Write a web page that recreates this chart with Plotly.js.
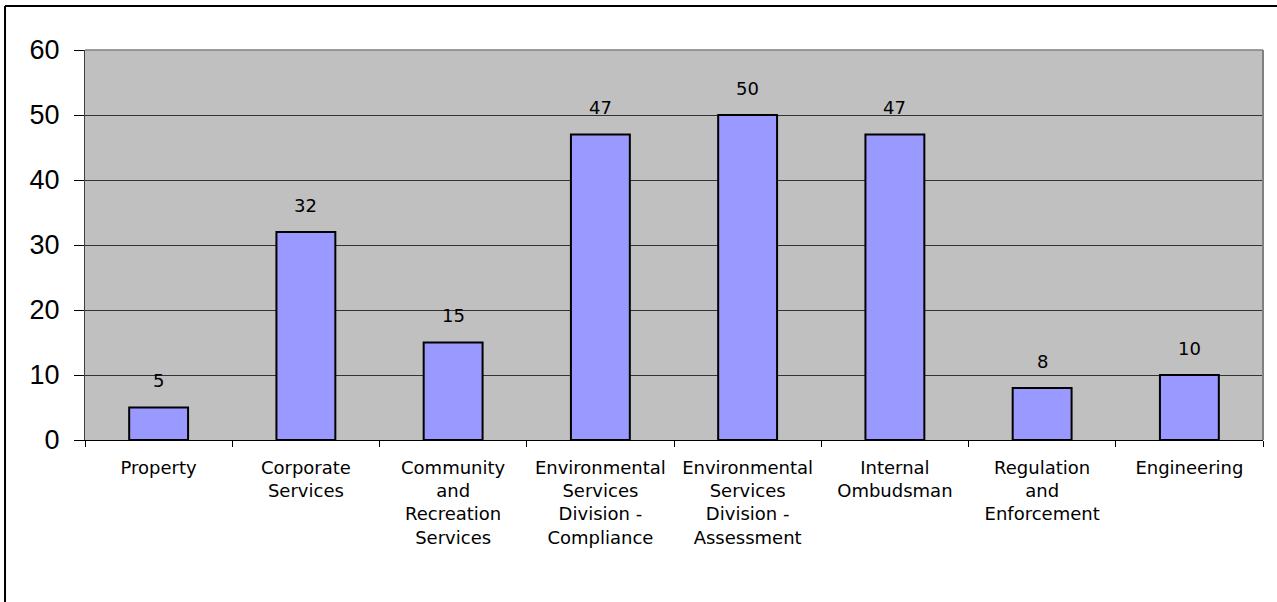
<!DOCTYPE html>
<html>
<head>
<meta charset="utf-8">
<script src="https://cdn.plot.ly/plotly-3.0.1.min.js"></script>
<style>
html,body{margin:0;padding:0;background:#fff;}
#chart{width:1277px;height:602px;}
</style>
</head>
<body>
<div id="chart"></div>
<script>
const categories = [
  "Property",
  "Corporate<br>Services",
  "Community<br>and<br>Recreation<br>Services",
  "Environmental<br>Services<br>Division -<br>Compliance",
  "Environmental<br>Services<br>Division -<br>Assessment",
  "Internal<br>Ombudsman",
  "Regulation<br>and<br>Enforcement",
  "Engineering"
];
const values = [5, 32, 15, 47, 50, 47, 8, 10];
const yTicks = [0, 10, 20, 30, 40, 50, 60];

const trace = {
  type: 'bar',
  x: categories,
  y: values,
  marker: {color: '#9999FF', line: {color: '#000000', width: 2}},
  hoverinfo: 'none'
};

const annotations = categories.map((c, i) => ({
  x: c, y: values[i], xref: 'x', yref: 'y',
  text: String(values[i]),
  showarrow: false,
  yanchor: 'middle',
  yshift: 27,
  font: {family: 'DejaVu Sans', size: 18, color: '#000'}
}));

const layout = {
  width: 1277, height: 602,
  margin: {l: 85, r: 14, t: 50, b: 162, pad: 0},
  paper_bgcolor: '#ffffff',
  plot_bgcolor: '#C0C0C0',
  bargap: 0.6,
  showlegend: false,
  xaxis: {
    type: 'category',
    tickson: 'boundaries',
    ticks: 'outside', ticklen: 6, tickwidth: 1, tickcolor: '#000',
    ticklabelstandoff: 11,
    showline: true, linecolor: '#000', linewidth: 1,
    showgrid: false,
    tickfont: {family: 'DejaVu Sans', size: 18, color: '#000'},
    fixedrange: true
  },
  yaxis: {
    range: [0, 60],
    tickvals: yTicks,
    ticktext: yTicks.map(String),
    ticks: 'outside', ticklen: 10, tickwidth: 1, tickcolor: '#000',
    ticklabelstandoff: 9,
    showline: true, linecolor: '#404040', linewidth: 1,
    showgrid: true, gridcolor: '#333333', gridwidth: 1,
    zeroline: true, zerolinecolor: '#000', zerolinewidth: 1,
    tickfont: {family: 'Liberation Sans', size: 27, color: '#000'},
    fixedrange: true
  },
  annotations: annotations,
  shapes: [
    {type: 'line', xref: 'paper', yref: 'paper', x0: 1, x1: 1, y0: 0, y1: 1, line: {color: '#808080', width: 2}},
    {type: 'line', xref: 'paper', yref: 'paper', x0: 0, x1: 1, y0: 1, y1: 1, line: {color: '#808080', width: 1.5}},
    {type: 'line', xref: 'paper', yref: 'paper', x0: -0.0679, x1: -0.0679, y0: -1, y1: 1.1128, line: {color: '#000', width: 2}},
    {type: 'line', xref: 'paper', yref: 'paper', x0: -0.0679, x1: 1.2, y0: 1.1128, y1: 1.1128, line: {color: '#000', width: 2}}
  ]
};

Plotly.newPlot('chart', [trace], layout, {displayModeBar: false, staticPlot: true});
</script>
</body>
</html>
